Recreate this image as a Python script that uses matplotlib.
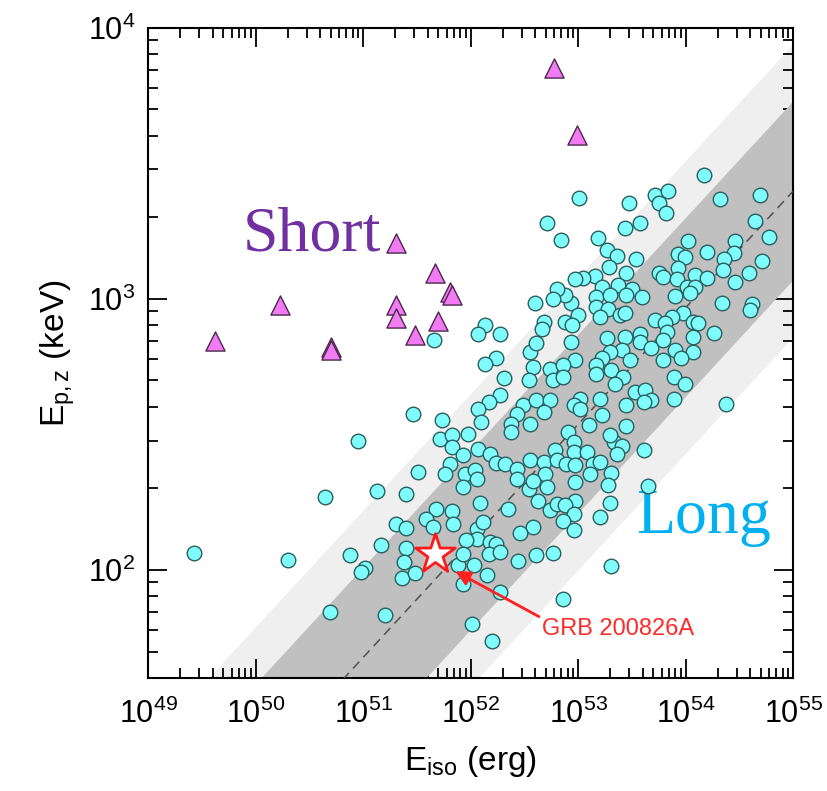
import numpy as np
import matplotlib
matplotlib.use("Agg")
import matplotlib.pyplot as plt
from matplotlib.ticker import LogLocator, LogFormatterMathtext, NullFormatter

plt.rcParams['font.family'] = ['Liberation Sans', 'DejaVu Sans']
plt.rcParams['mathtext.fontset'] = 'custom'
plt.rcParams['mathtext.rm'] = 'Liberation Sans'
plt.rcParams['mathtext.it'] = 'Liberation Sans:italic'

# long GRBs: log10(Eiso / erg), log10(Ep,z / keV)
long_logE = [
    49.43, 50.30, 50.65, 50.95, 51.46, 51.13, 51.40, 51.51, 51.31, 51.40,
    51.17, 50.88, 51.40, 51.38, 51.02, 50.98, 51.36, 51.48, 50.69, 51.20,
    51.66, 52.60, 52.13, 52.07, 52.27, 52.68, 52.66, 52.55, 52.61, 52.24,
    52.13, 52.31, 52.58, 52.54, 52.74, 52.77, 52.27, 52.17, 52.07, 52.49,
    52.61, 52.74, 52.43, 52.68, 51.73, 52.71, 52.84,
    53.01, 54.17, 53.47, 53.72, 53.84, 53.75, 53.82, 54.32, 54.69, 53.58,
    53.44, 54.65, 54.78, 53.19, 53.27, 53.36, 53.54, 53.29, 53.45, 53.16,
    53.05, 52.97, 54.02, 54.46, 54.45, 54.20, 53.93, 53.99, 54.36, 54.71,
    53.93, 53.75, 54.35, 54.59, 54.09, 54.20, 54.46, 53.79, 53.92, 53.22,
    53.37, 53.50, 54.01, 54.09,
    52.93, 52.88, 53.00, 52.88, 52.94, 53.17, 53.30, 53.45, 53.59, 53.17,
    53.28, 53.20, 53.39, 53.44, 53.90, 54.04, 54.34, 54.62, 54.60, 53.98,
    53.87, 53.72, 53.81, 54.07, 54.12, 54.26, 53.83, 54.07, 53.27, 53.44,
    53.58, 52.93, 53.58, 53.79, 53.68, 53.90, 54.07, 53.41, 53.30, 53.96,
    53.79, 53.48, 53.22, 52.97, 52.86, 53.17, 53.31, 53.42, 53.17, 52.86,
    53.34, 53.89, 53.99, 53.53, 53.62, 53.68, 53.61, 53.45, 53.89, 53.20,
    53.02, 52.96, 53.02, 53.22, 54.38,
    51.98, 51.72, 51.83, 51.83, 51.93, 51.81, 51.76, 52.07, 52.18, 52.24,
    52.32, 51.95, 52.04, 52.06, 51.93, 52.10, 52.38, 52.55, 52.38, 52.43,
    52.43, 52.55, 52.68, 52.69, 52.71, 52.54, 52.58, 52.79, 52.80, 52.63,
    52.35, 52.09, 51.68, 51.83, 51.59, 51.84, 51.65, 52.06, 52.12, 52.58,
    52.46, 52.74, 52.80, 52.06, 51.96, 52.18, 52.24,
    53.61, 53.45, 53.33, 53.41, 53.36, 53.30, 53.10, 52.91, 52.96, 52.96,
    53.08, 52.89, 52.97, 53.14, 53.20, 53.11, 52.97, 53.31, 53.28, 53.65,
    52.97, 53.30, 52.88, 52.96, 53.20, 52.86, 52.96,
    51.88, 52.03, 51.93, 52.15, 52.27, 52.44, 52.61, 52.17, 52.01, 52.20,
    52.86, 52.77, 51.93, 52.27, 53.31, 52.80, 52.77,
]
long_logEp = [
    2.062, 2.035, 2.269, 2.474, 2.577, 2.292, 2.280, 2.363, 2.170, 2.154,
    2.091, 2.056, 2.080, 2.030, 2.006, 1.992, 1.971, 1.988, 1.846, 1.834,
    2.847, 2.983, 2.903, 2.872, 2.869, 2.913, 2.887, 2.804, 2.837, 2.780,
    2.758, 2.708, 2.749, 2.702, 2.743, 2.700, 2.644, 2.620, 2.595, 2.607,
    2.626, 2.626, 2.577, 2.583, 2.554, 3.281, 3.217,
    3.371, 3.457, 3.352, 3.383, 3.399, 3.352, 3.315, 3.367, 3.383, 3.278,
    3.260, 3.287, 3.227, 3.225, 3.180, 3.158, 3.146, 3.118, 3.096, 3.084,
    3.075, 3.072, 3.213, 3.214, 3.170, 3.174, 3.165, 3.155, 3.147, 3.139,
    3.112, 3.094, 3.106, 3.094, 3.088, 3.075, 3.063, 3.081, 3.072, 3.044,
    3.051, 3.038, 3.044, 3.044,
    2.983, 3.014, 2.940, 2.915, 2.903, 3.007, 3.014, 3.014, 3.007, 2.970,
    2.964, 2.934, 2.940, 2.946, 3.010, 3.020, 2.983, 2.980, 2.958, 2.946,
    2.934, 2.921, 2.911, 2.915, 2.911, 2.874, 2.878, 2.860, 2.854, 2.860,
    2.872, 2.841, 2.841, 2.847, 2.817, 2.811, 2.804, 2.813, 2.804, 2.780,
    2.776, 2.776, 2.780, 2.774, 2.755, 2.755, 2.737, 2.710, 2.724, 2.712,
    2.687, 2.710, 2.685, 2.657, 2.663, 2.626, 2.620, 2.607, 2.632, 2.632,
    2.632, 2.607, 2.595, 2.570, 2.611,
    2.503, 2.484, 2.497, 2.453, 2.423, 2.392, 2.355, 2.447, 2.429, 2.394,
    2.392, 2.355, 2.367, 2.337, 2.306, 2.546, 2.540, 2.540, 2.509, 2.373,
    2.337, 2.404, 2.398, 2.355, 2.306, 2.300, 2.330, 2.441, 2.404, 2.256,
    2.226, 2.246, 2.226, 2.217, 2.189, 2.170, 2.158, 2.152, 2.176, 2.160,
    2.136, 2.220, 2.244, 2.115, 2.109, 2.103, 2.097,
    2.444, 2.530, 2.472, 2.456, 2.429, 2.497, 2.533, 2.509, 2.472, 2.435,
    2.435, 2.392, 2.386, 2.392, 2.398, 2.355, 2.324, 2.357, 2.312, 2.308,
    2.256, 2.246, 2.238, 2.207, 2.197, 2.182, 2.146,
    2.019, 2.019, 1.949, 1.980, 1.920, 2.034, 2.057, 2.059, 1.801, 1.737,
    1.893, 2.063, 2.059, 2.065, 2.016, 3.038, 3.000,
]

# short GRBs
short_logE = [49.62, 50.23, 50.70, 50.70, 51.31, 51.31, 51.31, 51.48,
              51.70, 51.67, 51.81, 51.83, 52.78, 52.99]
short_logEp = [2.845, 2.977, 2.823, 2.810, 3.205, 2.977, 2.928, 2.866,
               2.919, 3.094, 3.026, 3.014, 3.851, 3.605]

# GRB 200826A
grb_E = 4.7e51
grb_Ep = 115.0

# Amati relation and its 1 and 2 sigma bands (in dex)
amati_slope = 0.43
amati_norm = 2.107     # log10 Ep at Eiso = 1e52 erg
sig1 = 0.33
sig2 = 0.54

x_ticks = [1e49, 1e50, 1e51, 1e52, 1e53, 1e54, 1e55]
y_ticks = [1e2, 1e3, 1e4]

fig = plt.figure(figsize=(8.27, 7.91), dpi=100)
ax = fig.add_axes([0.179, 0.143, 0.780, 0.822])

xx = np.logspace(49, 55, 200)
mid = amati_norm + amati_slope * (np.log10(xx) - 52)
ax.fill_between(xx, 10**(mid - sig2), 10**(mid + sig2), color='#efefef', lw=0, zorder=1)
ax.fill_between(xx, 10**(mid - sig1), 10**(mid + sig1), color='#c0c0c0', lw=0, zorder=2)
ax.plot(xx, 10**mid, ls=(0, (6, 4)), color='#505050', lw=1.1, zorder=3)

ax.scatter(10**np.array(long_logE), 10**np.array(long_logEp), s=110,
           facecolor='#7ffcfc', edgecolor='#2b5e5e', lw=1.0, zorder=4)
ax.scatter(10**np.array(short_logE), 10**np.array(short_logEp), s=190, marker='^',
           facecolor='#f27af2', edgecolor='#4a2a4a', lw=1.0, zorder=4)
ax.scatter([grb_E], [grb_Ep], s=900, marker='*', facecolor='white',
           edgecolor='#ff1a1a', lw=2, zorder=6)

ax.annotate('GRB 200826A', xy=(7.2e51, 99), xytext=(4.6e52, 60.5),
            color='#ff2a2a', fontsize=17, ha='left', va='center',
            arrowprops=dict(arrowstyle='-|>', color='#ff2020', lw=2,
                            mutation_scale=22, shrinkA=0, shrinkB=0,
                            relpos=(0.0, 1.0)), zorder=7)

ax.text(7.6e49, 1510, 'Short', family=['Liberation Serif'], fontsize=46,
        color='#7030a0', ha='left', va='baseline')
ax.text(3.5e53, 137, 'Long', family=['Liberation Serif'], fontsize=46,
        color='#00b0f0', ha='left', va='baseline')

ax.set_xscale('log')
ax.set_yscale('log')
ax.set_xlim(1e49, 1e55)
ax.set_ylim(40, 1e4)

ax.set_xticks(x_ticks)
ax.set_yticks(y_ticks)
ax.xaxis.set_major_formatter(LogFormatterMathtext())
ax.yaxis.set_major_formatter(LogFormatterMathtext())
ax.xaxis.set_minor_locator(LogLocator(base=10, subs=np.arange(2, 10), numticks=20))
ax.xaxis.set_minor_formatter(NullFormatter())
ax.yaxis.set_minor_locator(LogLocator(base=10, subs=np.arange(2, 10), numticks=20))
ax.yaxis.set_minor_formatter(NullFormatter())

ax.tick_params(which='both', direction='in', top=True, right=True, width=1.3)
ax.tick_params(which='major', length=14, labelsize=22)
ax.tick_params(which='minor', length=7)
ax.tick_params(axis='x', which='major', pad=15)
ax.tick_params(axis='y', which='major', pad=9)
for sp in ax.spines.values():
    sp.set_linewidth(1.5)

ax.set_xlabel(r'$\mathregular{E_{iso}}$ (erg)', fontsize=24, labelpad=10)
ax.set_ylabel(r'$\mathregular{E_{p,z}}$ (keV)', fontsize=24, labelpad=8)

fig.savefig('out.png', dpi=100)
